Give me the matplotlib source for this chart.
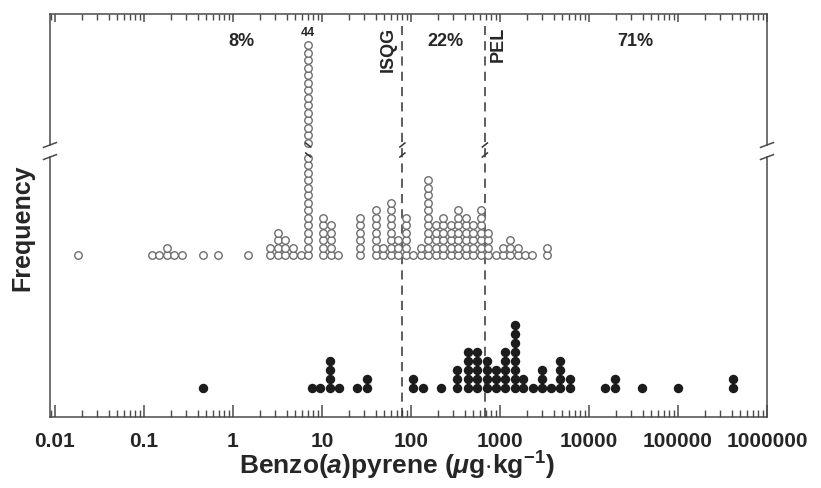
import numpy as np
import matplotlib.pyplot as plt
from matplotlib.lines import Line2D
from matplotlib.ticker import LogLocator, NullFormatter

plt.rcParams['font.family'] = ['Liberation Sans', 'DejaVu Sans']
plt.rcParams['font.weight'] = 'bold'
plt.rcParams['mathtext.fontset'] = 'custom'
plt.rcParams['mathtext.rm'] = 'Liberation Sans:bold'
plt.rcParams['mathtext.it'] = 'Liberation Sans:italic:bold'
plt.rcParams['mathtext.bf'] = 'Liberation Sans:bold'

# all samples (open circles): bin value (ug/kg) and number of samples
open_conc = [0.018, 0.123, 0.148, 0.181, 0.217, 0.267, 0.46, 0.68, 1.48,
             2.6, 3.2, 3.8, 4.7, 5.8, 7.0, 10.3, 12.6, 15.1, 27, 40, 48, 60,
             71, 88, 105, 129, 155, 191, 229, 281, 337, 415, 498, 612, 733,
             902, 1081, 1295, 1592, 1910, 2290, 3370]
open_count = [1, 1, 1, 2, 1, 1, 1, 1, 1,
              2, 4, 3, 2, 1, 44, 6, 5, 1, 6, 7, 2, 8,
              3, 6, 1, 2, 11, 5, 6, 5, 7, 6, 5, 7, 4,
              1, 2, 3, 2, 1, 1, 2]

# toxic samples (filled circles)
toxic_conc = [0.46, 7.7, 9.5, 12.3, 15.5, 24.7, 32, 105, 136, 217, 329, 437,
              552, 714, 902, 1138, 1475, 1811, 2349, 2963, 3742, 4721, 6120,
              15140, 19600, 39400, 100000, 415000]
toxic_count = [1, 1, 1, 4, 1, 1, 2, 2, 1, 1, 3, 5,
               5, 4, 3, 5, 8, 2, 1, 3, 1, 4, 2,
               1, 2, 1, 1, 2]

isqg = 80
pel = 676
pct_labels = ['8%', '22%', '71%']
tick_values = [0.01, 0.1, 1, 10, 100, 1000, 10000, 100000, 1000000]
tick_labels = ['0.01', '0.1', '1', '10', '100', '1000', '10000', '100000', '1000000']

# layout of the dot stacks (y axis is in "pixel" units, 0 = bottom spine)
open_base, open_step = 162, 7.5
toxic_base, toxic_step = 29, 9.0
break_after, break_skip = 14, 16   # column of 44 is cut above 14 circles

ink = '#262626'
grey = '#6e6e6e'

fig = plt.figure(figsize=(8.21, 4.88), dpi=100)
ax = fig.add_axes([50 / 821, 71 / 488, 717 / 821, 403 / 488])
ax.set_xscale('log')
ax.set_xlim(10 ** -2.056, 10 ** 6.0)
ax.set_ylim(0, 403)
ax.set_yticks([])

# open circles
ox, oy = [], []
for c, n in zip(open_conc, open_count):
    for k in range(n):
        if n > break_after and k >= break_after:
            if k < break_after + break_skip:
                continue
            slot = k - break_skip + 1
        else:
            slot = k
        ox.append(c)
        oy.append(open_base + open_step * slot)
ax.plot(ox, oy, 'o', ms=5.4, mfc='white', mec=grey, mew=1.0, ls='none', zorder=3)

# filled circles
fx, fy = [], []
for c, n in zip(toxic_conc, toxic_count):
    for k in range(n):
        fx.append(c)
        fy.append(toxic_base + toxic_step * k)
ax.plot(fx, fy, 'o', ms=6.8, color='#1c1c1c', mew=0, ls='none', zorder=3)

# count label over the cut column
big = open_conc[int(np.argmax(open_count))]
ax.text(big, 384, str(max(open_count)), ha='center', va='center', fontsize=9,
        color=ink)

# guideline lines
for v in (isqg, pel):
    ax.plot([v, v], [0, 391], color='#333333', lw=1.1, dashes=(6, 4), zorder=2)
ax.annotate('ISQG', (isqg, 390), xytext=(-10, 0), textcoords='offset points',
            rotation=90, ha='center', va='top', fontsize=13, color=ink)
ax.annotate('PEL', (pel, 390), xytext=(10, 0), textcoords='offset points',
            rotation=90, ha='center', va='top', fontsize=13, color=ink)

# percentage labels
for lab, xv in zip(pct_labels, [1.23, 241, 32900]):
    ax.text(xv, 376, lab, ha='center', va='center', fontsize=13, color=ink)

# break marks on the lines and the cut column
for v, sgn in ((isqg, 1), (pel, 1), (big, -1)):
    for yb in (262, 272):
        ax.plot([v / 10 ** 0.035, v * 10 ** 0.035], [yb - 2.5 * sgn, yb + 2.5 * sgn],
                color='#333333', lw=1.1, zorder=4, solid_capstyle='butt')

# spines with a break on left and right
for s in ('left', 'right'):
    ax.spines[s].set_visible(False)
spine_c = '#4a4a4a'
for s in ('top', 'bottom'):
    ax.spines[s].set_color(spine_c)
    ax.spines[s].set_linewidth(1.1)
lo, hi = 0.645, 0.675
for xa in (0, 1):
    for y0, y1 in ((0, lo), (hi, 1)):
        ax.add_line(Line2D([xa, xa], [y0, y1], transform=ax.transAxes,
                           color=spine_c, lw=1.1, clip_on=False))
    for yb in (lo, hi):
        ax.add_line(Line2D([xa - 0.009, xa + 0.009], [yb - 0.006, yb + 0.006],
                           transform=ax.transAxes, color=spine_c, lw=1.1,
                           clip_on=False))

# x ticks
ax.set_xticks(tick_values, tick_labels)
ax.xaxis.set_minor_locator(LogLocator(base=10, subs=range(2, 10), numticks=20))
ax.xaxis.set_minor_formatter(NullFormatter())
ax.tick_params(axis='x', which='major', direction='in', length=9, width=1.1,
               color=spine_c, labelsize=15, labelcolor=ink, pad=11)
ax.tick_params(axis='x', which='minor', direction='in', length=5, width=1.0,
               color=spine_c)

top = ax.secondary_xaxis('top')
top.set_xticks(tick_values)
top.xaxis.set_major_formatter(NullFormatter())
top.xaxis.set_minor_locator(LogLocator(base=10, subs=range(2, 10), numticks=20))
top.xaxis.set_minor_formatter(NullFormatter())
top.tick_params(which='major', direction='in', length=6, width=1.1, color=spine_c)
top.tick_params(which='minor', direction='in', length=4, width=1.0, color=spine_c)
top.spines['top'].set_visible(False)

fig.text(397 / 821, 13 / 488, 'Benzo$\\mathit{(a)}$pyrene ($\\mathit{\\mu}$g$\\cdot$kg$^{-1}$)',
         ha='center', va='baseline', fontsize=19, color=ink)
fig.text(22 / 821, 260 / 488, 'Frequency', rotation=90, ha='center', va='center',
         fontsize=18, color=ink)

fig.savefig('out.png', dpi=100)
